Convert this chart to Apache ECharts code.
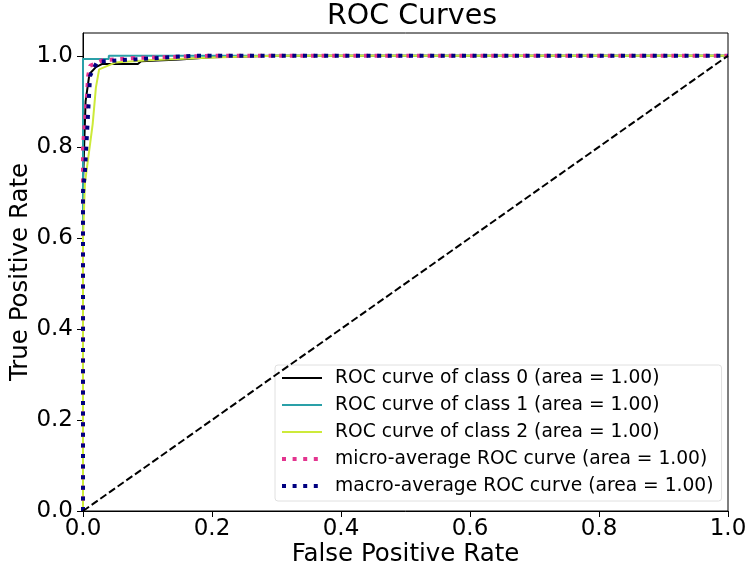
<!DOCTYPE html>
<html><head><meta charset="utf-8">
<script src="https://cdn.jsdelivr.net/npm/echarts@6/dist/echarts.min.js"></script>
<style>html,body{margin:0;padding:0;background:#fff}#c{width:754px;height:568px}</style>
</head><body><div id="c"></div>
<script>
const titleText = "ROC Curves";
const xName = "False Positive Rate";
const yName = "True Positive Rate";
const seriesNames = [
  "ROC curve of class 0 (area = 1.00)",
  "ROC curve of class 1 (area = 1.00)",
  "ROC curve of class 2 (area = 1.00)",
  "micro-average ROC curve (area = 1.00)",
  "macro-average ROC curve (area = 1.00)"
];
const class0 = [[0,0],[0,0.72],[0.004,0.9],[0.01,0.96],[0.02,0.975],[0.03,0.982],[0.085,0.982],[0.09,0.988],[0.15,0.992],[0.2,0.997],[0.3,1],[1,1]];
const class1 = [[0,0],[0,0.993],[0.04,0.993],[0.04,1],[1,1]];
const class2 = [[0,0],[0,0.6],[0.003,0.72],[0.015,0.85],[0.02,0.93],[0.025,0.97],[0.05,0.985],[0.1,0.99],[0.2,0.996],[0.3,1],[1,1]];
const microAvg = [[0,0],[0,0.8],[0.006,0.91],[0.008,0.956],[0.011,0.978],[0.03,0.99],[0.08,0.995],[0.2,1],[1,1]];
const macroAvg = [[0,0],[0,0.7],[0.003,0.745],[0.011,0.956],[0.022,0.987],[0.057,0.99],[0.17,1],[1,1]];
const diagonal = [[0,0],[1,1]];

const chart = echarts.init(document.getElementById('c'), null, {renderer:'canvas'});
const font = 'DejaVu Sans';
const colors = ['#000000','#2aa0a8','#cdea3a','#e3348f','#000080'];
const lineData = [class0, class1, class2, microAvg, macroAvg];
const styles = lineData.map((d,i)=> i<3 ? {color:colors[i], width:2} : {color:colors[i], width:4, type:[4,6.6], cap:'butt'});
const series = lineData.map((d,i)=>({
  name: seriesNames[i], type:'line', data:d, symbol:'none', showSymbol:false,
  animation:false, z: 2+i, lineStyle: styles[i], itemStyle:{color:colors[i]}
}));
series.push({name:'diag', type:'line', data:diagonal, symbol:'none', animation:false, z:8,
  lineStyle:{color:'#000', width:2, type:[7.4,3.2]}});

chart.setOption({
  animation:false,
  title:{text:titleText, left:407, top:-3, textAlign:'center',
    textStyle:{fontFamily:font, fontSize:28.5, fontWeight:'normal', color:'#000'}},
  grid:{left:83, right:26, top:33, bottom:57, show:true, borderColor:'#000', borderWidth:1,
    backgroundColor:'#fff', containLabel:false, outerBoundsMode:'none'},
  xAxis:{type:'value', min:0, max:1, interval:0.2,
    name:xName, nameLocation:'middle', nameGap:31, nameMoveOverlap:false,
    nameTextStyle:{fontFamily:font, fontSize:24.5, color:'#000'},
    axisLine:{show:true, onZero:false, lineStyle:{color:'#000'}},
    axisTick:{show:true, length:6, lineStyle:{color:'#000'}},
    axisLabel:{fontFamily:font, fontSize:23, color:'#000', margin:7, formatter:v=>v.toFixed(1)},
    splitLine:{show:false}},
  yAxis:{type:'value', min:0, max:1.05, interval:0.2,
    name:yName, nameLocation:'middle', nameGap:50, nameMoveOverlap:false,
    nameTextStyle:{fontFamily:font, fontSize:24.5, color:'#000'},
    axisLine:{show:true, onZero:false, lineStyle:{color:'#000'}},
    axisTick:{show:true, length:6, lineStyle:{color:'#000'}},
    axisLabel:{fontFamily:font, fontSize:23, color:'#000', margin:10, showMaxLabel:false,
      formatter:v=> (Math.abs(v*5-Math.round(v*5))<1e-6 ? v.toFixed(1) : '')},
    splitLine:{show:false}},
  legend:{data:seriesNames.map((n,i)=>({name:n, lineStyle:styles[i]})),
    orient:'vertical', left:275, top:365,
    padding:[2,8,4,5], itemWidth:40, itemHeight:14, itemGap:5,
    itemStyle:{opacity:0},
    backgroundColor:'rgba(255,255,255,0.8)', borderColor:'#e0e0e0', borderWidth:1, borderRadius:3,
    textStyle:{fontFamily:font, fontSize:18.7, color:'#000', lineHeight:22, padding:[0,0,0,8]}},
  series: series
});
</script></body></html>
